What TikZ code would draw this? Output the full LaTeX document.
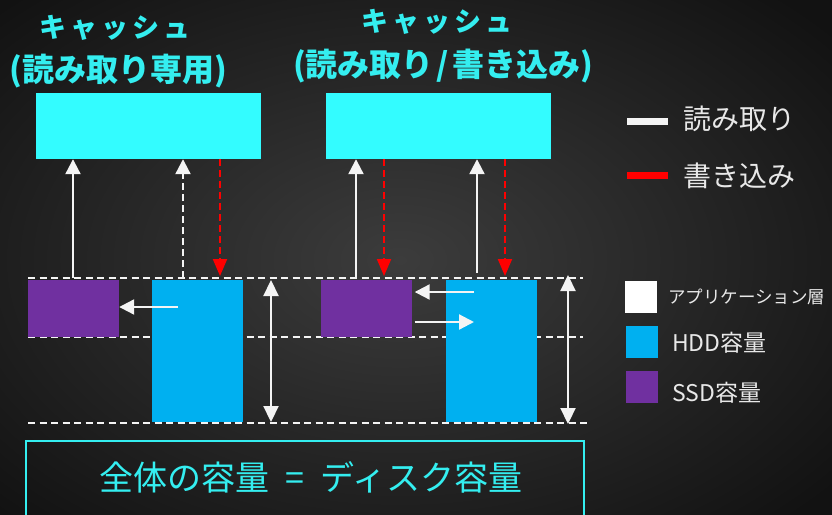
\documentclass[tikz,border=0pt]{standalone}
\usepackage{fontspec}
\setmainfont{Noto Sans CJK JP}
\usetikzlibrary{arrows.meta,calc}
\definecolor{bgIn}{RGB}{60,60,60}
\definecolor{bgOut}{RGB}{18,18,18}
\definecolor{cacheC}{RGB}{51,252,255}
\definecolor{titleC}{RGB}{52,238,240}
\definecolor{hddC}{RGB}{0,176,240}
\definecolor{ssdC}{RGB}{112,48,160}
\definecolor{redC}{RGB}{255,0,0}
\definecolor{wC}{RGB}{244,244,244}
\definecolor{legC}{RGB}{232,232,232}
\begin{document}
\begin{tikzpicture}[x=1pt,y=-1pt,
  cache/.style={fill=cacheC, inner sep=0pt, minimum width=225pt, minimum height=66pt},
  ssd/.style={fill=ssdC, inner sep=0pt, minimum width=91pt, minimum height=57pt},
  hdd/.style={fill=hddC, inner sep=0pt, minimum width=91pt, minimum height=142pt},
  guide/.style={draw=wC, line width=1.6pt, dash pattern=on 7pt off 4.5pt},
  readarr/.style={draw=wC, line width=2.2pt, -{Triangle[width=15pt,length=15pt]}},
  writearr/.style={draw=redC, line width=2pt, dash pattern=on 7pt off 4pt, -{Triangle[width=14pt,length=17pt]}},
  dblarr/.style={draw=wC, line width=2.2pt, {Triangle[width=15pt,length=16pt]}-{Triangle[width=15pt,length=16pt]}},
  title/.style={text=titleC, font=\bfseries\fontsize{32}{36}\selectfont, inner sep=0pt},
  titlek/.style={text=titleC, font=\bfseries\fontsize{27}{32}\selectfont, inner sep=0pt},
  legtext/.style={text=legC, anchor=west, inner sep=0pt},
  legsq/.style={inner sep=0pt, minimum width=32pt, minimum height=32pt}
]
\useasboundingbox (0,0) rectangle (832,514);
\shade[inner color=bgIn, outer color=bgOut] (-160,-100) rectangle (960,620);

% titles
\node[titlek] (t1a) at (115,28) {キ\kern4ptャ\kern4ptッ\kern4ptシ\kern4ptュ};
\node[title] (t1b) at (118,71) {(読み取り専用)};
\node[titlek] (t2a) at (437,22) {キ\kern4ptャ\kern4ptッ\kern4ptシ\kern4ptュ};
\node[title] (t2b) at (443,66) {(読み取り\kern3pt/\kern3pt書き込み)};

% cache boxes
\node[cache] (c1) at (148.5,126) {};
\node[cache] (c2) at (438.5,126) {};

% guide lines
\coordinate (g1a) at (28,278); \coordinate (g1b) at (583,278);
\coordinate (g2a) at (28,337); \coordinate (g2b) at (583,337);
\coordinate (g3a) at (28,423); \coordinate (g3b) at (590,423);
\draw[guide] (g1a) -- (g1b);
\draw[guide] (g2a) -- (g2b);
\draw[guide] (g3a) -- (g3b);

% capacity boxes
\node[ssd] (s1) at (73.5,308.5) {};
\node[hdd] (h1) at (197.5,351) {};
\node[ssd] (s2) at (366,308.5) {};
\node[hdd] (h2) at (491,351) {};

% read arrows (up)
\coordinate (u1) at (73,278);
\coordinate (u2) at (183,278);
\coordinate (u3) at (356,278);
\coordinate (u4) at (477,273);
\draw[readarr] (u1) -- (u1 |- c1.south);
\draw[readarr, dash pattern=on 7pt off 4pt] (u2) -- (u2 |- c1.south);
\draw[readarr] (u3) -- (u3 |- c2.south);
\draw[readarr] (u4) -- (u4 |- c2.south);

% write arrows (down)
\coordinate (r1) at (220,276);
\coordinate (r2) at (384,276);
\coordinate (r3) at (505,276);
\draw[writearr] (r1 |- c1.south) -- (r1);
\draw[writearr] (r2 |- c2.south) -- (r2);
\draw[writearr] (r3 |- c2.south) -- (r3);

% horizontal arrows
\coordinate (hA) at (178,307);
\coordinate (hB) at (474,292);
\coordinate (hC) at (474,322);
\draw[readarr] (hA) -- (hA -| s1.east);
\draw[readarr, shorten >=3pt] (hB) -- (hB -| s2.east);
\draw[readarr, shorten <=3pt] (hC -| s2.east) -- (hC);

% double arrows
\coordinate (d1t) at (271,280); \coordinate (d1b) at (271,422);
\coordinate (d2t) at (568,275); \coordinate (d2b) at (568,424);
\draw[dblarr] (d1t) -- (d1b);
\draw[dblarr] (d2t) -- (d2b);

% total box
\node[draw=titleC, line width=1.5pt, inner sep=0pt, minimum width=558pt, minimum height=100pt, anchor=north west] (total) at (25,440) {};
\node[text=titleC, inner sep=0pt, font=\fontsize{34}{40}\selectfont] (totaltxt) at (311,477) {全体の容量\hspace{16pt}=\hspace{16pt}ディスク容量};

% legend
\coordinate (lw1) at (627,121); \coordinate (lw2) at (668,121);
\coordinate (lr1) at (627,175); \coordinate (lr2) at (668,175);
\draw[wC, line width=7pt] (lw1) -- (lw2);
\draw[redC, line width=7pt] (lr1) -- (lr2);
\node[legtext, font=\fontsize{28}{32}\selectfont] (lread) at (683,119) {読み取り};
\node[legtext, font=\fontsize{28}{32}\selectfont] (lwrite) at (683,176) {書き込み};

\node[legsq, fill=white] (qa) at (641,297) {};
\node[legsq, fill=hddC] (qh) at (641.5,342) {};
\node[legsq, fill=ssdC] (qs) at (641.5,387) {};
\node[legtext, font=\fontsize{17.5}{22}\selectfont] (la) at (668,297) {アプリケーション層};
\node[legtext, font=\fontsize{23}{26}\selectfont] (lh) at (672,343) {HDD容量};
\node[legtext, font=\fontsize{23}{26}\selectfont] (ls) at (672,393) {SSD容量};
\end{tikzpicture}
\end{document}
